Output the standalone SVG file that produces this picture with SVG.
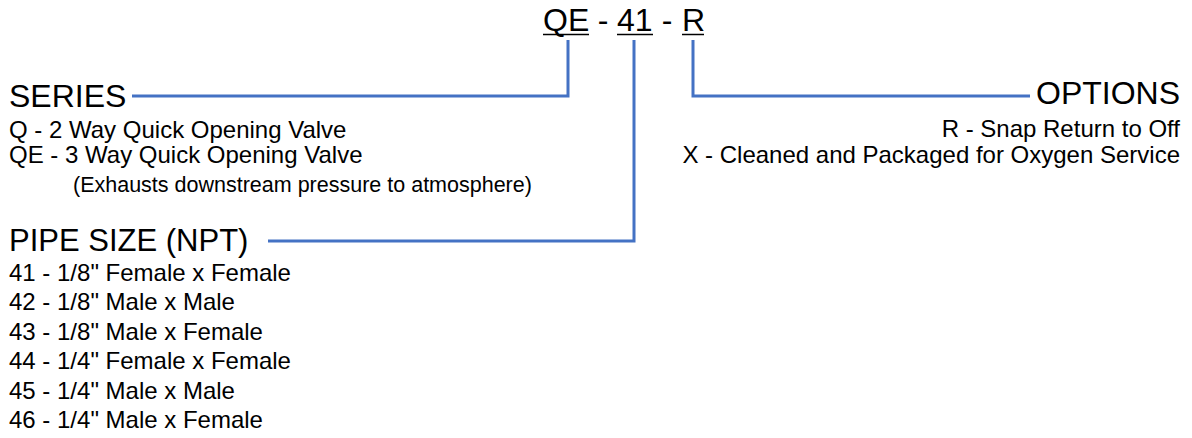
<svg xmlns="http://www.w3.org/2000/svg" width="1192" height="438" viewBox="0 0 1192 438">
<style>
text{font-family:"Liberation Sans",Arial,sans-serif;fill:#000}
.t{font-size:32px}
.h{font-size:32px}
.p{font-size:31px}
.s{font-size:24px}
.n{font-size:21.5px}
.c{fill:none;stroke:#4472C4;stroke-width:3}
.u{stroke:#000;stroke-width:1.5}
</style>
<rect width="1192" height="438" fill="#fff"/>
<g id="title">
<text class="t" x="543" y="31">QE</text>
<text class="t" x="603" y="31" text-anchor="middle">-</text>
<text class="t" x="617" y="31">41</text>
<text class="t" x="667" y="31" text-anchor="middle">-</text>
<text class="t" x="682" y="31">R</text>
<line class="u" x1="543" y1="34.5" x2="589" y2="34.5"/>
<line class="u" x1="617" y1="34.5" x2="653" y2="34.5"/>
<line class="u" x1="682" y1="34.5" x2="704" y2="34.5"/>
</g>
<g id="connectors">
<polyline class="c" points="568,40 568,96 132,96"/>
<polyline class="c" points="634,40 634,241 268,241"/>
<polyline class="c" points="693,40 693,96 1030,96"/>
</g>
<g id="series">
<text class="h" x="9" y="107">SERIES</text>
<text class="s" x="9" y="138">Q - 2 Way Quick Opening Valve</text>
<text class="s" x="9" y="163">QE - 3 Way Quick Opening Valve</text>
<text class="n" x="73" y="192">(Exhausts downstream pressure to atmosphere)</text>
</g>
<g id="pipe-size">
<text class="p" x="9" y="251">PIPE SIZE (NPT)</text>
<text class="s" x="9" y="281">41 - 1/8" Female x Female</text>
<text class="s" x="9" y="310">42 - 1/8" Male x Male</text>
<text class="s" x="9" y="340">43 - 1/8" Male x Female</text>
<text class="s" x="9" y="369">44 - 1/4" Female x Female</text>
<text class="s" x="9" y="399">45 - 1/4" Male x Male</text>
<text class="s" x="9" y="428">46 - 1/4" Male x Female</text>
</g>
<g id="options">
<text class="h" x="1180" y="104" text-anchor="end">OPTIONS</text>
<text class="s" x="1180" y="137" text-anchor="end">R - Snap Return to Off</text>
<text class="s" x="1180" y="163" text-anchor="end">X - Cleaned and Packaged for Oxygen Service</text>
</g>
</svg>
